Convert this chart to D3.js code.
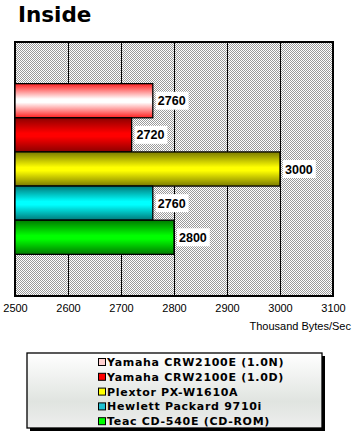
<!DOCTYPE html>
<html><head><meta charset="utf-8">
<script src="https://cdn.jsdelivr.net/npm/d3@7"></script>
<style>body{margin:0;background:#fff}svg{display:block}</style>
</head><body>
<script>
const title = "Inside";
const categories = ["Yamaha CRW2100E (1.0N)","Yamaha CRW2100E (1.0D)","Plextor PX-W1610A","Hewlett Packard 9710i","Teac CD-540E (CD-ROM)"];
const values = [2760, 2720, 3000, 2760, 2800];
const tickValues = [2500, 2600, 2700, 2800, 2900, 3000, 3100];
const axisTitle = "Thousand Bytes/Sec";
const colorsEdge = ["#ff2020", "#8c0000", "#7a7a00", "#007878", "#007a00"];
const colorsMid  = ["#ffffff", "#ff0000", "#ffff00", "#00ffff", "#00ff00"];
const swatch = ["#ffd0d0", "#ff0000", "#ffff00", "#20c0d0", "#00ff00"];

const W = 356, H = 434;
const svg = d3.select("body").append("svg").attr("width", W).attr("height", H);
const defs = svg.append("defs");

const pat = defs.append("pattern").attr("id","chk").attr("patternUnits","userSpaceOnUse")
  .attr("width",2).attr("height",2);
pat.append("rect").attr("width",2).attr("height",2).attr("fill","#ffffff");
pat.append("rect").attr("x",0).attr("y",0).attr("width",1).attr("height",1).attr("fill","#9a9a9a");
pat.append("rect").attr("x",1).attr("y",1).attr("width",1).attr("height",1).attr("fill","#9a9a9a");

categories.forEach((c,i)=>{
  const g = defs.append("linearGradient").attr("id","g"+i).attr("x1",0).attr("x2",0).attr("y1",0).attr("y2",1);
  g.append("stop").attr("offset","0%").attr("stop-color",colorsEdge[i]);
  g.append("stop").attr("offset","45%").attr("stop-color",colorsMid[i]);
  g.append("stop").attr("offset","55%").attr("stop-color",colorsMid[i]);
  g.append("stop").attr("offset","100%").attr("stop-color",colorsEdge[i]);
});
const lg = defs.append("linearGradient").attr("id","lg").attr("x1",0).attr("x2",0).attr("y1",0).attr("y2",1);
lg.append("stop").attr("offset","0%").attr("stop-color","#ffffff");
lg.append("stop").attr("offset","65%").attr("stop-color","#e0e4e0");
lg.append("stop").attr("offset","100%").attr("stop-color","#eeeeee");

const L = 15, R = 333, T = 42, B = 296;
const x = d3.scaleLinear().domain([2500, 3100]).range([L, R]);
const y = d3.scaleBand().domain(categories).range([T, B]).paddingInner(0).paddingOuter(1.22);

svg.append("text").attr("x",18).attr("y",22).text(title)
  .attr("font-family","DejaVu Sans").attr("font-weight","bold").attr("font-size",21.5).attr("fill","#000");

svg.append("rect").attr("x",L).attr("y",T).attr("width",R-L).attr("height",B-T)
  .attr("fill","url(#chk)").attr("shape-rendering","crispEdges");

const ax = d3.axisBottom(x).tickValues(tickValues).tickSize(-(B-T)).tickPadding(8).tickFormat(d3.format("d"));
const axg = svg.append("g").attr("transform",`translate(0,${B})`).call(ax);
axg.select(".domain").remove();
axg.selectAll(".tick line").attr("stroke","#000").attr("stroke-width",1.3).attr("shape-rendering","crispEdges");
axg.selectAll(".tick text").attr("font-family","Liberation Sans, Arial").attr("font-size",11).attr("fill","#000");

svg.append("rect").attr("x",L).attr("y",T).attr("width",R-L).attr("height",B-T)
  .attr("fill","none").attr("stroke","#000").attr("stroke-width",1.3).attr("shape-rendering","crispEdges");

svg.selectAll("rect.bar").data(values).enter().append("rect").attr("class","bar")
  .attr("x", x(2500)).attr("y",(d,i)=>y(categories[i]))
  .attr("width",d=>x(d)-x(2500)).attr("height",y.bandwidth())
  .attr("fill",(d,i)=>`url(#g${i})`).attr("stroke","#000").attr("stroke-width",1.3);

values.forEach((v,i)=>{
  const cy = y(categories[i]) + y.bandwidth()/2;
  const t = svg.append("text").attr("x",x(v)+5).attr("y",cy+4.5).text(v)
    .attr("font-family","Liberation Sans, Arial").attr("font-weight","bold").attr("font-size",12.5);
  const w = t.node().getComputedTextLength();
  svg.insert("rect", () => t.node()).attr("x",x(v)+3).attr("y",cy-9).attr("width",w+5).attr("height",18).attr("fill","#fff");
});

svg.append("text").attr("x",351).attr("y",330).attr("text-anchor","end").text(axisTitle)
  .attr("font-family","Liberation Sans, Arial").attr("font-size",11).attr("fill","#000");

svg.append("rect").attr("x",30).attr("y",356).attr("width",295).attr("height",75).attr("fill","#000");
svg.append("rect").attr("x",27).attr("y",353).attr("width",295).attr("height",75)
  .attr("fill","url(#lg)").attr("stroke","#000").attr("stroke-width",1.3);

categories.forEach((c,i)=>{
  const yy = 362 + i*14.8;
  svg.append("rect").attr("x",98.5).attr("y",yy-3.5).attr("width",7).attr("height",7)
    .attr("fill",swatch[i]).attr("stroke","#000").attr("stroke-width",1);
  svg.append("text").attr("x",107).attr("y",yy+4).text(c)
    .attr("font-family","DejaVu Sans").attr("font-weight","bold").attr("font-size",11)
    .attr("letter-spacing",0.7).attr("fill","#000");
});
</script>
</body></html>
